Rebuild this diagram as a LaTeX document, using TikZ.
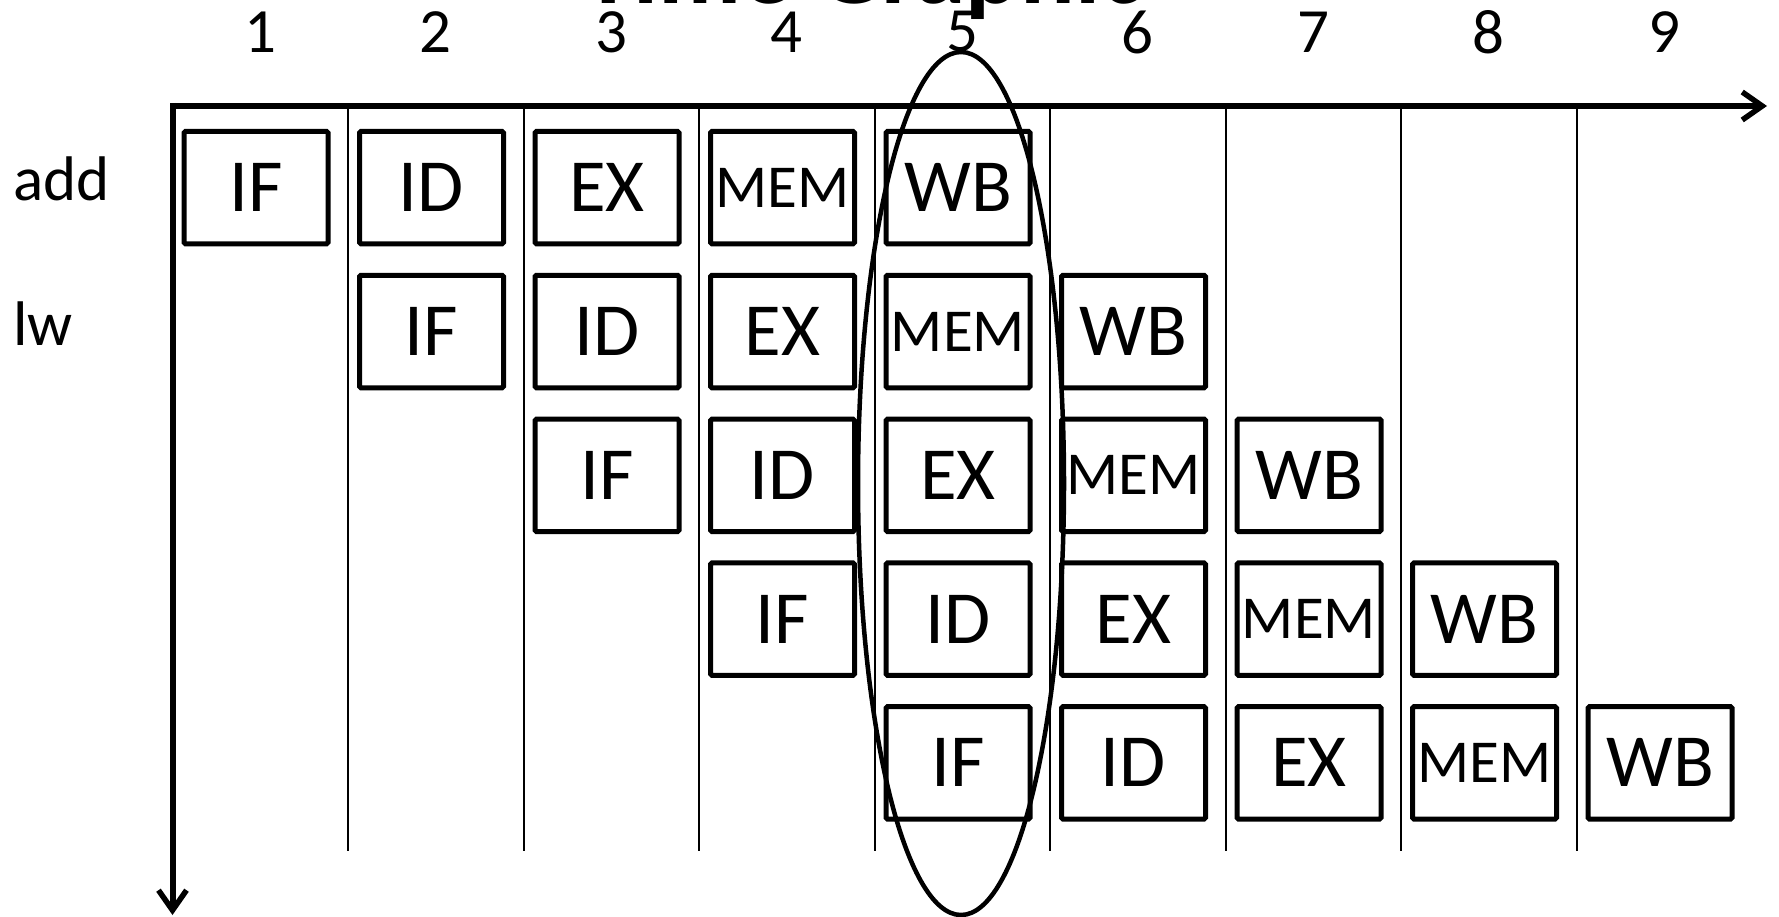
\documentclass[tikz,border=0pt]{standalone}
\usepackage{fontspec}
\setmainfont{Carlito}
\usetikzlibrary{arrows.meta,shapes.geometric}
\newcommand\bigstagefont{\fontsize{75}{75}\selectfont}
\newcommand\memstagefont{\fontsize{61}{61}\selectfont}
\def\memstr{MEM}
\begin{document}
\begin{tikzpicture}[x=1pt,y=-1pt,
  stagebox/.style={draw, line width=5pt, minimum width=144pt, minimum height=112.5pt,
    inner sep=0pt, rounded corners=1.5pt},
  gridline/.style={line width=2pt},
  axisline/.style={line width=6pt, -{Straight Barb[length=20pt,width=28pt,line width=5.5pt]}},
  numlabel/.style={inner sep=0pt, font=\fontsize{63}{63}\selectfont},
  rowlabel/.style={inner sep=0pt, anchor=base west, font=\fontsize{63}{63}\selectfont},
  titlestyle/.style={inner sep=0pt, anchor=base, font=\fontsize{102}{102}\selectfont\bfseries},
  selection/.style={draw, ellipse, line width=4.5pt, inner sep=0pt,
    minimum width=206pt, minimum height=863pt}
]
\useasboundingbox (0,0) rectangle (1779,917);
\clip (0,0) rectangle (1779,917);

% title (cut off at the top)
\node[titlestyle] (title) at (863,4) {Time Graphic};

% grid lines and column numbers
\foreach \i [evaluate=\i as \x using {172.5+175.5*(\i-1)}] in {1,...,9}{
  \node[numlabel] (num\i) at (\x+87.75,32) {\i};
}
\foreach \i [evaluate=\i as \x using {172.5+175.5*(\i-1)}] in {2,...,9}{
  \coordinate (gt\i) at (\x,106);
  \coordinate (gb\i) at (\x,851);
  \draw[gridline] (gt\i) -- (gb\i);
}

% axes
\coordinate (origin) at (172.5,106);
\coordinate (xend) at (1767,106);
\coordinate (ystart) at (172.5,103);
\coordinate (yend) at (172.5,915);
\draw[axisline] (ystart) -- (yend);
\draw[axisline] (origin) -- (xend);

% row labels
\node[rowlabel] (add) at (13,201) {add};
\node[rowlabel] (lw) at (13,345) {lw};

% pipeline stages
\foreach \r in {1,...,5}{
  \foreach \s [count=\k from 0] in {IF,ID,EX,MEM,WB}{
    \pgfmathsetmacro\bx{172.5+175.5*(\r+\k-1)+83.5}
    \pgfmathsetmacro\by{187.7+143.8*(\r-1)}
    \edef\tmp{\s}
    \ifx\tmp\memstr\def\stf{\memstagefont}\else\def\stf{\bigstagefont}\fi
    \node[stagebox, font=\stf] (s\r-\k) at (\bx,\by) {\s};
  }
}

% selection ellipse around cycle 5
\node[selection] (sel) at (961,483.5) {};
\end{tikzpicture}
\end{document}
